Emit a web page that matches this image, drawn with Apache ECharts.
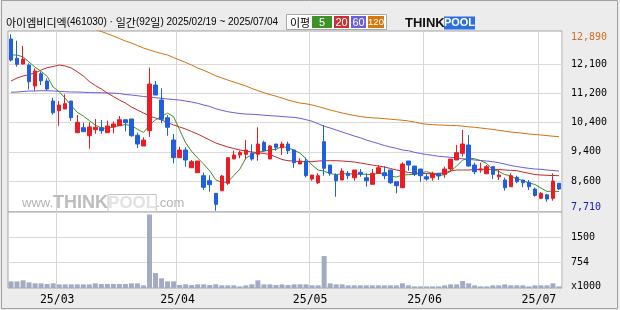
<!DOCTYPE html>
<html><head><meta charset="utf-8">
<script src="https://cdn.jsdelivr.net/npm/echarts@6/dist/echarts.min.js"></script>
<style>html,body{margin:0;padding:0;background:#ececec}#c{width:620px;height:310px}</style>
</head><body><div id="c"></div>
<script>
const titleText = '아이엠비디엑(461030) · 일간(92일) 2025/02/19 ~ 2025/07/04';
const legendTitle = '이평';
const legendItems = ['5', '20', '60', '120'];

const dates = [
'2025-02-19','2025-02-20','2025-02-21','2025-02-24','2025-02-25','2025-02-26','2025-02-27','2025-02-28',
'2025-03-04','2025-03-05','2025-03-06','2025-03-07','2025-03-10','2025-03-11','2025-03-12','2025-03-13','2025-03-14',
'2025-03-17','2025-03-18','2025-03-19','2025-03-20','2025-03-21','2025-03-24','2025-03-25','2025-03-26','2025-03-27','2025-03-28','2025-03-31',
'2025-04-01','2025-04-02','2025-04-03','2025-04-04','2025-04-07','2025-04-08','2025-04-09','2025-04-10','2025-04-11',
'2025-04-14','2025-04-15','2025-04-16','2025-04-17','2025-04-18','2025-04-21','2025-04-22','2025-04-23','2025-04-24','2025-04-25',
'2025-04-28','2025-04-29','2025-04-30',
'2025-05-02','2025-05-07','2025-05-08','2025-05-09','2025-05-12','2025-05-13','2025-05-14','2025-05-15','2025-05-16',
'2025-05-19','2025-05-20','2025-05-21','2025-05-22','2025-05-23','2025-05-26','2025-05-27','2025-05-28','2025-05-29','2025-05-30',
'2025-06-02','2025-06-04','2025-06-05','2025-06-09','2025-06-10','2025-06-11','2025-06-12','2025-06-13',
'2025-06-16','2025-06-17','2025-06-18','2025-06-19','2025-06-20','2025-06-23','2025-06-24','2025-06-25','2025-06-26','2025-06-27','2025-06-30',
'2025-07-01','2025-07-02','2025-07-03','2025-07-04'];

const opens = [12752,12185,12018,11988,11372,11733,11518,10931,10646,10696,
10931,10000,10147,9912,10088,10147,10000,10168,10206,10382,
10403,9924,9610,10059,11401,10960,10441,9786,9266,9492,
8972,8826,8738,8591,8221,8297,8514,9228,9346,9366,
9395,9366,9718,9228,9668,9560,9668,9492,9081,9169,
8640,8532,9736,9052,8758,8611,8808,8679,8838,8679,
8485,8808,8826,8905,8561,8385,9169,9022,8934,8708,
8679,8808,8779,8934,9199,9395,9639,9052,8905,8794,
9002,8706,8611,8415,8690,8611,8543,8347,8074,8178,
8074,8514];
const closes = [12135,12009,12164,11498,11812,11527,11284,10588,10814,10852,
10441,10306,10030,10168,10159,10059,10197,10256,10382,10294,
9912,9668,9786,11430,11107,10394,10159,9266,9492,9199,
9149,9169,8397,8475,7898,8729,9266,9346,9425,9492,
9228,9668,9472,9610,9571,9668,9472,9119,9169,8738,
8758,8738,8955,8808,8591,8876,8738,8905,8788,8591,
8808,8972,8738,8532,8444,9081,9052,8779,8738,8640,
8808,8729,8934,9228,9414,9668,9022,8855,8934,9002,
8779,8758,8385,8738,8561,8532,8415,8157,8221,8053,
8582,8347];
const lows = [12085,11938,12000,11275,11234,11401,11234,10529,10206,10696,
10344,10000,10030,9530,9971,9971,10000,9983,10206,10041,
9882,9551,9610,9874,11107,10276,9912,9102,9266,9002,
8972,8826,8318,8268,7710,8297,8464,9228,9249,9219,
9178,9178,9442,9228,9472,9346,9375,8972,9081,8690,
8591,8494,8738,8738,8121,8611,8640,8591,8708,8415,
8485,8808,8632,8494,8221,8385,8884,8729,8561,8591,
8591,8611,8679,8855,9199,9296,9002,8779,8826,8794,
8640,8611,8297,8415,8514,8397,8318,8121,8074,7974,
8003,8318];
const highs = [12890,12702,12546,12038,11891,11792,11598,11028,10931,11128,
10931,10520,10294,10306,10403,10373,10353,10335,10491,10382,
10403,10000,9865,11909,11518,11304,10520,9962,9589,9571,
9199,9169,8826,8750,8221,8760,9266,9472,9472,9786,
9660,10159,9765,9639,9668,9736,9736,9492,9249,9266,
8758,8808,10226,9052,8808,8955,8876,8905,8934,8808,
8934,9052,9022,8905,8561,9131,9169,9022,8934,8808,
8855,8808,9002,9228,9639,10080,9933,9119,9119,9052,
9002,8905,8679,8808,8738,8611,8611,8392,8257,8200,
8808,8514];
// volume, in thousands of shares
const volumes = [197,197,227,168,138,138,118,138,108,108,
108,108,108,108,138,118,118,118,118,118,
138,138,79,2178,444,286,197,197,89,108,
89,108,108,89,108,79,79,79,49,79,
108,227,108,108,89,108,89,108,108,108,
79,79,946,138,108,108,79,79,79,79,
79,79,79,79,79,138,79,49,49,49,
49,49,79,108,108,207,138,79,49,49,
79,79,108,79,79,79,49,79,79,79,
138,49];

const ma5 = [12282,12282,12224,12076,11924,11802,11657,11342,11205,11013,
10796,10600,10489,10359,10221,10144,10123,10168,10211,10238,
10208,10102,10008,10218,10381,10477,10575,10471,10084,9702,
9453,9255,9081,8878,8618,8534,8553,8743,8933,9252,
9351,9432,9457,9494,9510,9598,9559,9488,9400,9233,
9051,8904,8872,8799,8770,8794,8794,8784,8780,8780,
8766,8813,8779,8728,8699,8753,8769,8778,8819,8858,
8803,8739,8770,8868,9023,9195,9253,9237,9179,9096,
8918,8866,8772,8732,8644,8595,8526,8481,8377,8276,
8286,8272];
const ma20 = [11518,11607,11665,11709,11753,11841,11909,11944,11988,11959,
11900,11791,11665,11504,11386,11284,11166,11063,10960,10872,
10755,10667,10579,10491,10432,10373,10300,10226,10168,10109,
10035,9962,9874,9786,9698,9639,9580,9536,9492,9463,
9434,9413,9389,9360,9287,9213,9178,9169,9149,9149,
9149,9169,9178,9178,9178,9169,9155,9140,9110,9081,
9052,9022,8993,8949,8905,8876,8832,8817,8808,8802,
8788,8802,8826,8876,8905,8905,8905,8920,8926,8926,
8926,8920,8905,8896,8884,8846,8808,8773,8758,8749,
8743,8738];
const ma60 = [11187,11195,11210,11225,11225,11234,11234,11225,11216,11204,
11195,11195,11187,11181,11175,11175,11166,11160,11151,11122,
11107,11087,11063,11049,11028,11010,10990,10975,10960,10931,
10902,10864,10814,10770,10705,10658,10617,10588,10564,10549,
10541,10529,10514,10499,10491,10476,10461,10452,10423,10382,
10338,10262,10191,10138,10080,10021,9962,9903,9853,9786,
9733,9683,9624,9580,9542,9492,9472,9425,9389,9360,
9337,9307,9293,9278,9257,9237,9219,9199,9184,9169,
9149,9119,9081,9037,9008,8978,8955,8934,8926,8905,
8890,8876];
const ma120 = [null,null,null,null,null,null,null,null,null,null,
null,null,null,13095,13031,12972,12907,12840,12766,12693,
12634,12561,12487,12429,12376,12326,12282,12208,12135,12062,
11988,11900,11833,11753,11671,11607,11548,11489,11430,11372,
11298,11234,11175,11122,11072,11019,10960,10911,10872,10849,
10814,10770,10717,10667,10623,10579,10541,10505,10476,10452,
10438,10426,10414,10397,10382,10367,10344,10314,10276,10250,
10238,10226,10220,10215,10209,10191,10173,10159,10138,10118,
10097,10071,10044,10021,10003,9983,9962,9947,9933,9915,
9897,9883];

const priceTickLabels = ['8,600', '9,400', '10,400', '11,200', '12,100'];
const volumeTickValues = [754, 1500];
const volumeTickLabels = ['754', '1500'];
const volumeUnitLabel = 'x1000';

// ---- axis configuration ----
const priceMin = 7672, priceMax = 12987;
const priceGridBase = 7720, priceGridStep = 860;
const priceGridValues = priceTickLabels.map((_, k) => priceGridBase + (k + 1) * priceGridStep);
const volumeMax = 2250;
const maxHigh = Math.max(...highs);
const minLow = Math.min(...lows);

const UP = '#ec1c24', DOWN = '#1f5fe0';
const MONO = '"DejaVu Sans Mono", monospace';
const KR = '"Noto Sans CJK KR", sans-serif';
const LAT = '"Liberation Sans", Arial, sans-serif';

const isMonthStart = i => i > 0 && dates[i].slice(5, 7) !== dates[i - 1].slice(5, 7);
const fmtNum = v => v.toLocaleString('en-US');

const candleData = dates.map((d, i) => [opens[i], closes[i], lows[i], highs[i]]);

// rich title: Hangul segments vs latin segments
const titleRich = titleText.split(/([\uAC00-\uD7A3]+)/).filter(s => s.length)
  .map(s => /[\uAC00-\uD7A3]/.test(s) ? '{k|' + s + '}' : '{l|' + s + '}').join('');

const chart = echarts.init(document.getElementById('c'), null, {renderer: 'canvas'});

const legendColors = ['#3d9128', '#c83232', '#6a5fe0', '#d8780c'];
const legendX = [312, 334, 351, 368];
const legendW = [20, 15, 15, 16];
const legendGraphics = [
  {type: 'rect', shape: {x: 286.5, y: 14.5, width: 100, height: 15}, style: {fill: '#fff', stroke: '#a8a8a8', lineWidth: 1}},
  {type: 'text', x: 290, y: 22.5, style: {text: legendTitle, font: '11px ' + KR, fill: '#000', verticalAlign: 'middle'}}
];
legendItems.forEach((t, k) => {
  legendGraphics.push({type: 'rect', shape: {x: legendX[k], y: 16, width: legendW[k], height: 12}, style: {fill: legendColors[k]}});
  legendGraphics.push({type: 'text', x: legendX[k] + legendW[k] / 2, y: 22.5,
    style: {text: t, font: (t.length > 2 ? '9.5px ' : '11px ') + LAT, fill: '#fff', align: 'center', verticalAlign: 'middle'}});
});

const option = {
  animation: false,
  backgroundColor: '#ececec',
  textStyle: {fontFamily: LAT},
  grid: [
    {left: 8, right: 58, top: 31, height: 181, show: true, backgroundColor: '#fff', borderColor: '#a4a4a4', borderWidth: 1},
    {left: 8, right: 58, top: 212, height: 76, show: true, backgroundColor: '#fff', borderColor: '#a4a4a4', borderWidth: 1}
  ],
  xAxis: [
    {type: 'category', gridIndex: 0, data: dates, boundaryGap: true,
      axisLine: {show: false}, axisTick: {show: false}, axisLabel: {show: false},
      splitLine: {show: true, interval: i => isMonthStart(i), lineStyle: {color: '#d6d6d6', width: 1}}},
    {type: 'category', gridIndex: 1, data: dates, boundaryGap: true,
      axisLine: {show: false}, axisTick: {show: false},
      axisLabel: {show: true, interval: i => isMonthStart(i), formatter: v => v.slice(2, 4) + '/' + v.slice(5, 7),
        fontFamily: MONO, fontSize: 11.5, color: '#000', margin: 6, padding: [0, 4, 0, 0]},
      splitLine: {show: true, interval: i => isMonthStart(i), lineStyle: {color: '#d6d6d6', width: 1}}}
  ],
  yAxis: [
    {type: 'value', gridIndex: 0, position: 'right', min: priceMin, max: priceMax, scale: true,
      axisLine: {show: false},
      axisTick: {show: false, customValues: priceGridValues},
      splitLine: {show: true, lineStyle: {color: '#d9d9d9', width: 1}},
      axisLabel: {customValues: [...priceGridValues, minLow, maxHigh], margin: 9,
        fontFamily: MONO, fontSize: 10, color: '#000',
        formatter: v => {
          if (v === maxHigh) return '{hi|' + fmtNum(v) + '}';
          if (v === minLow) return '{lo|' + fmtNum(v) + '}';
          const k = priceGridValues.indexOf(v);
          return k >= 0 ? priceTickLabels[k] : '';
        },
        rich: {
          hi: {color: '#d2701e', fontFamily: MONO, fontSize: 10, padding: [7, 0, 0, 0]},
          lo: {color: '#1515cc', fontFamily: MONO, fontSize: 10, padding: [0, 0, 7, 0]}
        }}},
    {type: 'value', gridIndex: 1, position: 'right', min: 0, max: volumeMax,
      axisLine: {show: false},
      axisTick: {show: false, customValues: volumeTickValues},
      splitLine: {show: true, lineStyle: {color: '#d9d9d9', width: 1}},
      axisLabel: {customValues: [0, ...volumeTickValues], margin: 9,
        fontFamily: MONO, fontSize: 10, color: '#000',
        formatter: v => v === 0 ? '{u|' + volumeUnitLabel + '}' : volumeTickLabels[volumeTickValues.indexOf(v)],
        rich: {u: {fontFamily: MONO, fontSize: 10, color: '#000', padding: [0, 0, 4, 0]}}}}
  ],
  series: [
    {name: 'MA120', type: 'line', xAxisIndex: 0, yAxisIndex: 0, data: ma120, symbol: 'none', z: 2,
      lineStyle: {color: '#d4700c', width: 1}},
    {name: 'MA60', type: 'line', xAxisIndex: 0, yAxisIndex: 0, data: ma60, symbol: 'none', z: 2,
      lineStyle: {color: '#6a5be0', width: 1}},
    {name: 'MA20', type: 'line', xAxisIndex: 0, yAxisIndex: 0, data: ma20, symbol: 'none', z: 2,
      lineStyle: {color: '#c42a2a', width: 1}},
    {name: 'MA5', type: 'line', xAxisIndex: 0, yAxisIndex: 0, data: ma5, symbol: 'none', z: 2,
      lineStyle: {color: '#3f8f22', width: 1}},
    {name: 'price', type: 'candlestick', xAxisIndex: 0, yAxisIndex: 0, data: candleData, barWidth: 4, z: 3,
      itemStyle: {color: UP, color0: DOWN, borderColor: UP, borderColor0: DOWN, borderWidth: 1}},
    {name: 'volume', type: 'bar', xAxisIndex: 1, yAxisIndex: 1, data: volumes, barWidth: 5,
      itemStyle: {color: '#a3abc4'}}
  ],
  graphic: [
    {type: 'rect', silent: true, z: 50, shape: {x: 1.5, y: 0.5, width: 616, height: 308}, style: {fill: 'none', stroke: '#a0a0a0', lineWidth: 1}},
    {type: 'text', x: 6, y: 22.5, z: 10, style: {text: titleRich, verticalAlign: 'middle',
      rich: {k: {fontFamily: KR, fontSize: 11, fill: '#000', color: '#000'}, l: {fontFamily: LAT, fontSize: 10, fill: '#000', color: '#000'}}}},
    {type: 'group', z: 10, children: legendGraphics},
    {type: 'text', x: 405, y: 23, z: 10, style: {text: 'THINK', font: 'bold 13px ' + LAT, fill: '#111', verticalAlign: 'middle'}},
    {type: 'rect', z: 10, shape: {x: 444, y: 16.5, width: 31, height: 13}, style: {fill: '#2c6fe4'}},
    {type: 'text', x: 459.5, y: 23, z: 11, style: {text: 'POOL', font: 'bold 11px ' + LAT, fill: '#fff', align: 'center', verticalAlign: 'middle'}},
    {type: 'text', x: 22, y: 203, z: 1, silent: true, style: {text: '{a|www.}{b|THINK}{c|POOL}{a|.com}', verticalAlign: 'middle',
      rich: {
        a: {fontFamily: LAT, fontSize: 13, fill: '#b4b4b4', color: '#b4b4b4'},
        b: {fontFamily: LAT, fontSize: 18, fontWeight: 'bold', fill: '#bcbcbc', color: '#bcbcbc'},
        c: {fontFamily: LAT, fontSize: 17, fontWeight: 'bold', fill: '#e2e2e2', color: '#e2e2e2', textBorderColor: '#c4c4c4', textBorderWidth: 1}
      }}}
  ]
};
chart.setOption(option);
</script>
</body></html>
